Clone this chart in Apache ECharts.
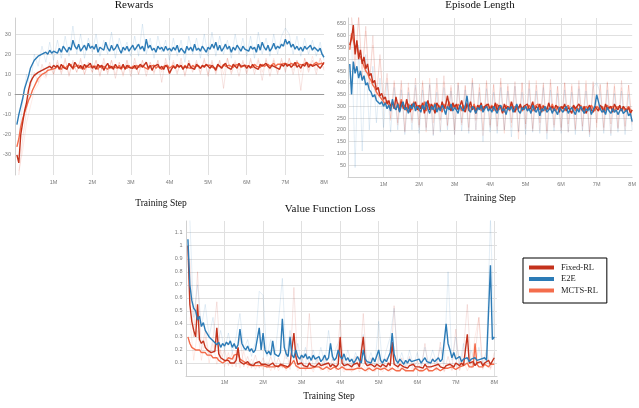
<!DOCTYPE html>
<html>
<head>
<meta charset="utf-8">
<script src="https://cdn.jsdelivr.net/npm/echarts@6/dist/echarts.min.js"></script>
<style>html,body{margin:0;padding:0;background:#fff;}#c{width:639px;height:408px;}</style>
</head>
<body>
<div id="c"></div>
<script>
// ---- names / labels ----
const seriesNames = ['Fixed-RL', 'E2E', 'MCTS-RL'];
const chartTitles = ['Rewards', 'Episode Length', 'Value Function Loss'];
const xAxisName = 'Training Step';
const MAIN_STEP = 0.05;   // millions of steps between smoothed points
const RAW_STEP = 0.1;     // millions of steps between raw points

// ---- Rewards (smoothed) ----
const rewE2E = [
 -15,-10,-6,-2,3,6,9,13,15,17,18,19,18.5,20,19.5,21,20,22,20.5,21.5,
 22,20.5,23,21,24,22.5,21,23.5,22,27,24,22.5,25,21.5,23,24.5,22,25.5,23,24,
 22.5,25,21,23.5,24,22,26,23,21.5,24.5,22,23,25,22.5,20.5,23.5,22,24,21.5,23,
 24.5,22,23.5,25,22.5,24,21.5,27.5,23,24.5,22,23,21,24,22.5,23.5,21.5,24,22,23,
 21.5,23.5,22,24.5,21,23,22.5,20.5,24,22,23.5,21.5,25,22,23,21.5,24,22.5,21,23.5,
 22.5,25,23,26,22,24.5,21.5,23,25,22.5,24,21,23.5,22,24.5,23,21.5,24,22.5,23,
 21.5,24,22.5,23.5,21,25,22,26,23.5,22,24.5,21.5,23,25.5,22.5,24,23,25,24,27.5,
 25,26.5,23.5,25,22.5,24,22,23.5,21.5,24,22.5,23,24.5,22,23.5,24,21.5,23,20,18.5];
const rewFixed = [
 -30,-34,-20,-14,-8,-4,2,6,8,9.5,10,11,10.5,12,11.5,13,12.5,14,13,14.5,
 13.5,14.5,12.5,15,13.5,14,12.5,15.5,14,13,16,14.5,13,14.5,12.5,15,13.5,14,15.5,13,
 14,12.5,15,13.5,14.5,12,14,15.5,13,14,12.5,15,13.5,14,13,15,12.5,14.5,13.5,14,
 13,14.5,12.5,14,15,13.5,14,16,13,14.5,12,14,13.5,15,13,14,12.5,14.5,13.5,10.5,
 12.5,14,13,15,13.5,14.5,12.5,14,13,15.5,13.5,14,12.5,15,14,13,14.5,13.5,15,14,
 13,14.5,13.5,12,15,14,13,14.5,15.5,13.5,14,12.5,15,14,13,15.5,14,13.5,14.5,13,
 14.5,13,15,13.5,14,12.5,15,14,13.5,15.5,14,13,14.5,15,13.5,14,12.5,15,14,15.5,
 14,15,13.5,14.5,16,13.5,14.5,13,15,14,16,13.5,15,14,13.5,15,14,13,14.5,16];
const rewMCTS = [
 -26,-22,-16,-12,-9,-6,-3,-1,2,4,6,8,9,10,10.5,11,12,12,12.5,13,
 13,14,13.5,12.5,14.5,13,14,13.5,15,12.5,14,13.5,14.5,13,14,12.5,14.5,13.5,13,14,
 13.5,14,12.5,14.5,13,14,13.5,12.5,14.5,13,14,13.5,13,14.5,12.5,14,13.5,13,14.5,13,
 14,13,14.5,13.5,13,14.5,13.5,14,12.5,14,13.5,14.5,13,14,13.5,12.5,14,13.5,14.5,13,
 13.5,14.5,13,14,13.5,14,13,14.5,13.5,14,13,14.5,13.5,14,14.5,13,14,13.5,14.5,14,
 14.5,13.5,14,13,14.5,14,13.5,15,14,13.5,14.5,14,13.5,14.5,14,15,13.5,14,14.5,14,
 14,14.5,13.5,15,14,14.5,13.5,15,14,14.5,15,14,14.5,15.5,14,15,14.5,15,14.5,15.5,
 15,14.5,15.5,15,14.5,16,15,15.5,14.5,15,16,15,15.5,14.5,15,16,15,14.5,15.5,15];
// ---- Rewards (raw) ----
const rewE2ERaw = [
 -22,-4,10,4,20,14,24,16,26,17, 27,18,29,19,34,20,30,18,28,21,
 30,19,27,20,31,18,28,21,26,19, 29,19,35,20,28,18,29,21,27,17,
 28,19,27,16,29,20,28,18,30,19, 31,19,29,20,27,18,30,20,28,19,
 29,18,31,20,28,19,30,20,29,33, 30,20,29,19,28,20,27,19,26,17];
const rewFixedRaw = [
 -40,-22,-8,4,11,6,15,9,16,10, 17,10,18,9,17,11,18,10,16,11,
 17,9,18,10,17,8,16,10,17,9, 18,10,17,9,16,11,17,6,18,10,
 16,10,18,9,17,11,17,10,18,9, 17,10,17,3,18,10,16,9,17,10,
 18,10,17,7,18,9,17,10,18,11, 18,10,17,2,18,11,17,10,18,12];
const rewMCTSRaw = [
 -38,-28,-14,-6,2,5,10,8,14,10, 16,11,17,10,16,11,17,10,16,11,
 17,10,16,11,17,10,16,9,17,11, 16,10,17,11,16,10,17,11,16,10,
 17,11,16,10,17,12,16,11,17,10, 16,11,17,10,18,11,17,12,16,11,
 17,12,18,11,17,12,18,11,17,12, 18,12,17,11,18,12,19,12,18,13];

// ---- Episode Length (smoothed) ----
const epE2E = [
 480,350,490,440,470,420,450,410,430,390,400,370,360,340,350,325,330,310,320,300,
 315,290,305,280,330,295,285,310,275,300,320,285,295,270,305,290,315,280,300,290,
 275,305,285,320,290,270,300,285,310,275,295,280,305,290,265,300,285,310,280,295,
 285,270,305,290,280,300,345,285,275,300,290,270,295,285,305,275,290,300,280,290,
 275,300,285,270,295,305,280,290,265,295,285,300,275,290,310,280,270,295,285,300,
 280,290,270,305,285,275,295,260,290,280,300,275,285,295,270,290,280,265,295,285,
 275,290,300,270,285,295,280,265,290,275,300,285,270,290,280,295,265,285,300,350,
 320,290,275,285,265,295,280,270,290,275,285,265,280,290,270,275,285,260,270,235];
const epFixed = [
 560,590,645,520,580,500,540,480,510,460,480,430,440,400,410,370,380,345,355,330,
 340,310,325,300,315,290,340,305,280,320,300,285,330,295,275,310,300,320,285,305,
 290,315,270,300,325,285,310,295,270,315,300,285,320,290,305,345,300,280,315,295,
 310,285,300,325,290,275,310,295,320,285,300,270,305,290,315,280,300,295,310,285,
 300,290,315,280,305,295,270,310,290,300,285,320,295,275,305,290,310,285,300,295,
 310,285,295,320,280,300,290,310,275,300,295,285,315,290,300,280,305,295,275,300,
 290,310,280,295,300,270,305,290,285,310,295,280,300,270,290,305,285,275,300,290,
 280,305,295,275,310,290,285,300,275,310,295,285,305,280,300,290,280,295,270,285];
const epMCTS = [
 540,610,580,550,560,520,510,490,470,450,440,420,410,390,380,360,350,340,330,320,
 310,325,300,290,320,305,285,315,295,330,290,305,280,310,300,285,320,295,305,280,
 305,290,320,280,300,310,285,295,315,280,305,295,275,310,290,300,320,285,295,305,
 285,310,295,280,305,290,315,280,300,290,310,285,295,305,280,300,290,310,285,295,
 305,280,295,310,285,300,290,275,305,295,280,310,290,300,285,295,305,280,290,300,
 285,305,290,280,300,295,310,285,290,305,280,295,300,285,310,290,280,300,295,285,
 300,280,295,305,285,290,300,280,295,285,305,290,280,300,295,285,305,290,280,300,
 295,285,300,290,280,305,290,285,300,280,295,290,300,285,295,280,290,300,285,280];
// ---- Episode Length (raw) ----
const epE2ERaw = [
 600,40,560,110,520,200,470,230,420,210, 400,190,380,200,370,180,360,200,390,185,
 370,200,395,175,360,190,380,200,365,180, 390,195,370,185,400,200,360,150,375,190,
 360,185,380,200,365,170,385,195,360,180, 375,190,365,185,380,160,370,195,355,185,
 370,190,360,180,375,195,365,170,380,400, 360,185,370,175,355,190,365,180,350,200];
const epFixedRaw = [
 680,450,680,420,640,380,600,330,520,300, 440,250,400,230,410,190,380,240,420,220,
 400,210,390,180,420,240,430,220,380,200, 400,230,390,210,420,240,380,200,410,220,
 395,215,420,200,385,230,405,190,400,225, 410,205,390,230,400,195,415,220,385,210,
 400,225,385,200,410,215,395,190,405,230, 395,210,400,225,385,205,410,215,390,230];
const epMCTSRaw = [
 680,500,680,460,620,400,560,360,500,320, 420,240,410,220,395,200,400,230,380,210,
 410,190,420,230,395,200,405,215,390,180, 400,220,385,195,410,200,395,175,400,210,
 390,200,405,185,395,210,385,160,400,205, 395,195,410,200,390,185,400,210,385,195,
 400,190,395,205,385,200,410,180,395,210, 390,200,405,185,395,210,380,200,390,220];

// ---- Value Function Loss (smoothed) ----
const vfE2E = [
 1.05,0.7,0.58,0.52,0.5,0.43,0.46,0.38,0.41,0.35,0.36,0.3,0.29,0.27,0.28,0.24,0.26,0.22,0.25,0.23,
 0.26,0.24,0.27,0.22,0.25,0.21,0.24,0.36,0.25,0.22,0.2,0.23,0.19,0.21,0.18,0.2,0.19,0.37,0.2,0.33,
 0.2,0.17,0.19,0.16,0.27,0.17,0.16,0.15,0.18,0.44,0.22,0.17,0.15,0.3,0.16,0.14,0.2,0.15,0.13,0.16,
 0.14,0.17,0.13,0.15,0.12,0.16,0.13,0.12,0.15,0.11,0.13,0.16,0.12,0.14,0.25,0.15,0.12,0.14,0.2,0.15,
 0.13,0.17,0.12,0.14,0.11,0.13,0.1,0.12,0.15,0.12,0.1,0.2,0.13,0.11,0.12,0.1,0.14,0.11,0.12,0.2,
 0.12,0.1,0.13,0.11,0.12,0.18,0.33,0.17,0.12,0.1,0.13,0.11,0.09,0.12,0.1,0.13,0.11,0.1,0.12,0.11,
 0.13,0.1,0.12,0.14,0.11,0.12,0.1,0.13,0.11,0.12,0.14,0.11,0.13,0.12,0.4,0.25,0.2,0.14,0.18,0.13,
 0.12,0.15,0.11,0.13,0.12,0.14,0.11,0.13,0.12,0.14,0.12,0.11,0.13,0.12,0.14,0.12,0.13,0.85,0.28,0.3];
const vfFixed = [
 1.0,0.55,0.42,0.35,0.3,0.55,0.28,0.25,0.27,0.22,0.2,0.21,0.18,0.17,0.19,0.37,0.17,0.14,0.13,0.12,
 0.11,0.12,0.1,0.11,0.1,0.12,0.22,0.11,0.1,0.09,0.1,0.11,0.09,0.1,0.08,0.1,0.09,0.11,0.09,0.1,
 0.09,0.1,0.08,0.09,0.1,0.08,0.09,0.07,0.09,0.1,0.08,0.09,0.07,0.09,0.1,0.33,0.15,0.09,0.08,0.1,
 0.08,0.09,0.07,0.1,0.08,0.09,0.07,0.08,0.1,0.08,0.07,0.09,0.08,0.1,0.07,0.09,0.08,0.07,0.09,0.3,
 0.1,0.08,0.07,0.09,0.08,0.07,0.09,0.08,0.1,0.07,0.08,0.3,0.1,0.08,0.07,0.09,0.08,0.07,0.09,0.08,
 0.07,0.09,0.08,0.07,0.1,0.08,0.26,0.09,0.08,0.07,0.09,0.08,0.07,0.08,0.06,0.08,0.07,0.09,0.07,0.08,
 0.07,0.08,0.06,0.09,0.07,0.08,0.07,0.06,0.08,0.07,0.09,0.07,0.08,0.06,0.08,0.07,0.09,0.08,0.07,0.1,
 0.09,0.08,0.1,0.08,0.09,0.32,0.1,0.09,0.11,0.08,0.1,0.09,0.11,0.08,0.1,0.09,0.12,0.09,0.1,0.14];
const vfMCTS = [
 0.3,0.25,0.22,0.21,0.2,0.19,0.2,0.18,0.17,0.18,0.16,0.15,0.16,0.14,0.13,0.14,0.12,0.11,0.1,0.1,
 0.12,0.14,0.15,0.13,0.16,0.15,0.17,0.13,0.12,0.11,0.1,0.09,0.1,0.08,0.09,0.08,0.09,0.08,0.07,0.08,
 0.08,0.07,0.08,0.07,0.08,0.07,0.06,0.08,0.07,0.08,0.07,0.06,0.07,0.08,0.07,0.12,0.08,0.07,0.06,0.07,
 0.06,0.07,0.06,0.07,0.06,0.05,0.07,0.06,0.07,0.06,0.05,0.06,0.07,0.06,0.05,0.06,0.07,0.06,0.05,0.06,
 0.07,0.06,0.05,0.06,0.05,0.06,0.05,0.04,0.06,0.05,0.06,0.05,0.04,0.05,0.06,0.05,0.04,0.05,0.06,0.05,
 0.05,0.04,0.06,0.05,0.04,0.05,0.06,0.05,0.04,0.05,0.04,0.06,0.05,0.04,0.05,0.04,0.05,0.04,0.06,0.05,
 0.04,0.05,0.04,0.05,0.06,0.04,0.05,0.04,0.05,0.06,0.05,0.04,0.05,0.06,0.05,0.06,0.05,0.07,0.06,0.05,
 0.06,0.07,0.06,0.08,0.07,0.1,0.07,0.08,0.07,0.25,0.09,0.07,0.08,0.07,0.09,0.08,0.07,0.09,0.08,0.09];
// ---- Value Function Loss (raw) ----
const vfE2ERaw = [
 1.2,0.45,0.7,0.38,0.55,0.3,0.45,0.22,0.35,0.2, 0.33,0.18,0.3,0.48,0.2,0.28,0.15,0.26,0.65,0.62,
 0.15,0.28,0.12,0.42,0.75,0.13,0.35,0.12,0.25,0.1, 0.22,0.09,0.2,0.1,0.22,0.09,0.35,0.12,0.22,0.28,
 0.09,0.2,0.08,0.18,0.1,0.32,0.09,0.18,0.08,0.42, 0.08,0.2,0.3,0.52,0.09,0.18,0.07,0.2,0.08,0.18,
 0.08,0.22,0.09,0.2,0.1,0.22,0.09,0.8,0.12,0.3, 0.09,0.25,0.1,0.2,0.08,0.22,0.1,0.2,1.2,0.28];
const vfFixedRaw = [
 0.9,0.3,0.8,0.2,0.35,0.15,0.28,0.57,0.12,0.2, 0.08,0.18,0.07,0.3,0.07,0.15,0.06,0.16,0.06,0.14,
 0.06,0.15,0.05,0.14,0.06,0.2,0.05,0.68,0.06,0.15, 0.05,0.48,0.05,0.14,0.05,0.15,0.05,0.13,0.05,0.43,
 0.05,0.14,0.05,0.15,0.05,0.48,0.05,0.14,0.04,0.15, 0.05,0.14,0.05,0.54,0.05,0.14,0.04,0.15,0.05,0.12,
 0.04,0.25,0.04,0.14,0.05,0.26,0.04,0.15,0.05,0.36, 0.05,0.2,0.55,0.06,0.15,0.45,0.06,0.2,0.06,0.18];
const vfMCTSRaw = [
 0.45,0.12,0.35,0.12,0.3,0.1,0.25,0.09,0.2,0.07, 0.18,0.07,0.2,0.06,0.19,0.06,0.13,0.05,0.12,0.05,
 0.11,0.04,0.12,0.04,0.1,0.04,0.11,0.12,0.04,0.1, 0.04,0.09,0.03,0.1,0.04,0.09,0.03,0.1,0.04,0.09,
 0.03,0.09,0.03,0.1,0.03,0.09,0.03,0.08,0.03,0.09, 0.03,0.08,0.03,0.09,0.03,0.08,0.03,0.09,0.03,0.08,
 0.03,0.09,0.03,0.08,0.04,0.09,0.03,0.1,0.04,0.1, 0.04,0.12,0.04,0.1,0.3,0.45,0.05,0.12,0.05,0.12];

// ---- build ----
const colors = { 'Fixed-RL': '#c4321c', 'E2E': '#2c7bb6', 'MCTS-RL': '#f46d4c' };
const SERIF = '"Liberation Serif", "Times New Roman", serif';
const SANS = '"Liberation Sans", Arial, sans-serif';

function pairs(values, step) {
  return values.map((v, i) => [+((i + 1) * step).toFixed(3), v]);
}
function check(arr, n, label) { if (arr.length !== n) throw new Error(label + ' has ' + arr.length + ' values, expected ' + n); }

const chartData = [
  { main: { 'Fixed-RL': rewFixed, 'E2E': rewE2E, 'MCTS-RL': rewMCTS }, raw: { 'Fixed-RL': rewFixedRaw, 'E2E': rewE2ERaw, 'MCTS-RL': rewMCTSRaw } },
  { main: { 'Fixed-RL': epFixed, 'E2E': epE2E, 'MCTS-RL': epMCTS }, raw: { 'Fixed-RL': epFixedRaw, 'E2E': epE2ERaw, 'MCTS-RL': epMCTSRaw } },
  { main: { 'Fixed-RL': vfFixed, 'E2E': vfE2E, 'MCTS-RL': vfMCTS }, raw: { 'Fixed-RL': vfFixedRaw, 'E2E': vfE2ERaw, 'MCTS-RL': vfMCTSRaw } }
];

const series = [];
const drawOrder = ['MCTS-RL', 'Fixed-RL', 'E2E'];
chartData.forEach((cd, gi) => {
  drawOrder.forEach(name => {
    check(cd.raw[name], 80, chartTitles[gi] + ' raw ' + name);
    series.push({
      type: 'line', name: name + ' raw', xAxisIndex: gi, yAxisIndex: gi,
      data: pairs(cd.raw[name], RAW_STEP), showSymbol: false, symbol: 'none',
      lineStyle: { color: colors[name], width: 1, opacity: 0.13 }, itemStyle: { color: colors[name] },
      z: 1, silent: true, animation: false
    });
  });
  drawOrder.forEach(name => {
    check(cd.main[name], 160, chartTitles[gi] + ' ' + name);
    const s = {
      type: 'line', name: name, xAxisIndex: gi, yAxisIndex: gi,
      data: pairs(cd.main[name], MAIN_STEP), showSymbol: false, symbol: 'none',
      color: colors[name],
      lineStyle: { color: colors[name], width: 1.4 }, itemStyle: { color: colors[name] },
      z: 2, silent: true, animation: false
    };
    if (gi === 0 && name === 'MCTS-RL') {
      s.markLine = { silent: true, symbol: 'none', label: { show: false },
        lineStyle: { color: '#9a9a9a', type: 'solid', width: 1 }, data: [{ yAxis: 0 }] };
    }
    series.push(s);
  });
});

const gridLine = { show: true, lineStyle: { color: '#e0e0e0', width: 1 }, showMinLine: false, showMaxLine: false };
const axisLineStyle = { show: true, lineStyle: { color: '#d0d0d0', width: 1 } };
const lblStyle = { fontSize: 5.5, color: '#7a7a7a', fontFamily: SANS };

function xAxis(gi, max, margin) {
  return {
    type: 'value', gridIndex: gi, min: 0, max: max, interval: 1,
    axisLine: axisLineStyle, axisTick: { show: false },
    splitLine: gridLine,
    axisLabel: Object.assign({ margin: margin, showMinLabel: false, showMaxLabel: max === 8,
      formatter: v => (Math.abs(v - Math.round(v)) < 1e-6 && v > 0) ? Math.round(v) + 'M' : '' }, lblStyle)
  };
}
function yAxis(gi, min, max, interval, margin, fmt) {
  return {
    type: 'value', gridIndex: gi, min: min, max: max, interval: interval,
    axisLine: axisLineStyle, axisTick: { show: false },
    splitLine: gridLine,
    axisLabel: Object.assign({ margin: margin, showMinLabel: false, showMaxLabel: false, formatter: fmt }, lblStyle)
  };
}

const option = {
  backgroundColor: '#ffffff',
  animation: false,
  grid: [
    { left: 13, top: 18, width: 311, height: 157 },
    { left: 348, top: 18, width: 289.3, height: 159 },
    { left: 186, top: 221, width: 311, height: 155 }
  ],
  xAxis: [ xAxis(0, 8, 4), xAxis(1, 8, 4), xAxis(2, 8.07, 3) ],
  yAxis: [
    yAxis(0, -40, 38, 10, 4, v => String(v)),
    yAxis(1, 0, 675, 50, 2, v => String(v)),
    yAxis(2, 0, 1.19, 0.1, 3.5, v => String(Math.round(v * 10) / 10))
  ],
  legend: {
    data: seriesNames, orient: 'vertical', left: 523, top: 258,
    icon: 'rect', itemWidth: 25, itemHeight: 4, itemGap: 0.5,
    padding: [4, 9, 7, 6], borderColor: '#000', borderWidth: 1, backgroundColor: '#fff',
    selectedMode: false,
    textStyle: { fontFamily: SERIF, fontSize: 8.5, color: '#222', lineHeight: 11, padding: [0, 0, 0, 2] }
  },
  graphic: [
    { type: 'text', x: 134, y: 5, style: { text: chartTitles[0], font: '11px ' + SERIF, fill: '#111', textAlign: 'center', textVerticalAlign: 'middle' } },
    { type: 'text', x: 480, y: 5, style: { text: chartTitles[1], font: '11px ' + SERIF, fill: '#111', textAlign: 'center', textVerticalAlign: 'middle' } },
    { type: 'text', x: 330, y: 209, style: { text: chartTitles[2], font: '11px ' + SERIF, fill: '#111', textAlign: 'center', textVerticalAlign: 'middle' } },
    { type: 'text', x: 161, y: 203, style: { text: xAxisName, font: '9.5px ' + SERIF, fill: '#111', textAlign: 'center', textVerticalAlign: 'middle' } },
    { type: 'text', x: 490, y: 198, style: { text: xAxisName, font: '9.5px ' + SERIF, fill: '#111', textAlign: 'center', textVerticalAlign: 'middle' } },
    { type: 'text', x: 329, y: 396.5, style: { text: xAxisName, font: '9.5px ' + SERIF, fill: '#111', textAlign: 'center', textVerticalAlign: 'middle' } }
  ],
  series: series
};

const chart = echarts.init(document.getElementById('c'), null, { renderer: 'canvas', width: 639, height: 408, devicePixelRatio: 1 });
chart.setOption(option);
</script>
</body>
</html>
